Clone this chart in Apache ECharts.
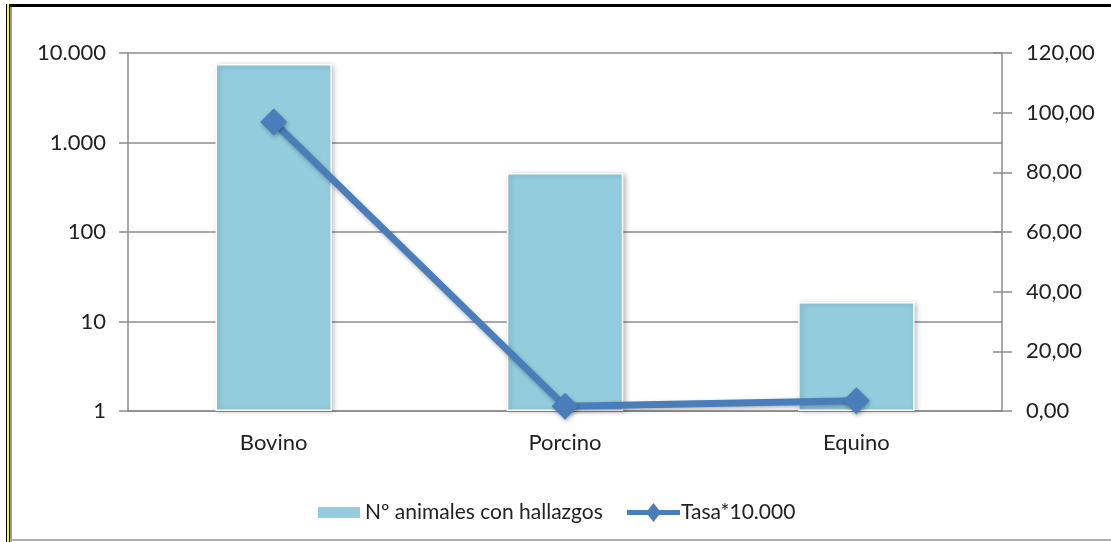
<!DOCTYPE html>
<html>
<head>
<meta charset="utf-8">
<script src="https://cdn.jsdelivr.net/npm/echarts@6/dist/echarts.min.js"></script>
<style>
html,body{margin:0;padding:0;background:#fff;}
#c{width:1111px;height:542px;}
</style>
</head>
<body>
<div id="c"></div>
<script>
var categories = ['Bovino', 'Porcino', 'Equino'];
var animales = [7540, 456, 16.5];
var tasa = [96.9, 1.6, 3.4];
var leftTicks = [1, 10, 100, 1000, 10000];
var rightTicks = [0, 20, 40, 60, 80, 100, 120];

var FONT = 'Lato';
var TXT = '#222';
function fmtThousands(v) {
  return String(Math.round(v)).replace(/\B(?=(\d{3})+(?!\d))/g, '.');
}
function fmtDec(v) {
  return v.toFixed(2).replace('.', ',');
}

var chart = echarts.init(document.getElementById('c'), null, {renderer: 'canvas'});
chart.setOption({
  animation: false,
  backgroundColor: '#fff',
  textStyle: {fontFamily: FONT},
  grid: {left: 128, right: 109, top: 53, bottom: 131},
  legend: [
    {
      left: 313,
      top: 497,
      itemWidth: 42,
      itemHeight: 11,
      textStyle: {fontFamily: FONT, fontSize: 21, color: TXT},
      data: [
        {name: 'Nº animales con hallazgos', icon: 'rect', itemStyle: {borderWidth: 0, shadowBlur: 0}}
      ]
    },
    {
      left: 622,
      top: 497,
      itemWidth: 53,
      itemHeight: 19,
      textStyle: {fontFamily: FONT, fontSize: 21, color: TXT, padding: [0, 0, 0, -4]},
      data: [
        {name: 'Tasa*10.000', icon: 'path://M0,7L21,7L26.5,0L32,7L53,7L53,12L32,12L26.5,19L21,12L0,12Z', itemStyle: {shadowBlur: 0}}
      ]
    }
  ],
  xAxis: {
    type: 'category',
    data: categories,
    axisLine: {lineStyle: {color: '#8c8c8c', width: 1.5}},
    axisTick: {show: false},
    axisLabel: {fontFamily: FONT, fontSize: 22, color: TXT, margin: 21}
  },
  yAxis: [
    {
      type: 'log',
      logBase: 10,
      min: 1,
      max: 10000,
      position: 'left',
      axisLine: {show: true, lineStyle: {color: '#8c8c8c', width: 1.5}},
      axisTick: {show: true, length: 9, lineStyle: {color: '#8c8c8c', width: 1.5}},
      splitLine: {show: true, lineStyle: {color: '#8c8c8c', width: 1.5}},
      axisLabel: {
        fontFamily: FONT, fontSize: 22, color: TXT, margin: 22,
        formatter: function (v) { return leftTicks.indexOf(Math.round(v)) >= 0 ? fmtThousands(v) : ''; }
      }
    },
    {
      type: 'value',
      min: 0,
      max: 120,
      interval: 20,
      position: 'right',
      axisLine: {show: true, lineStyle: {color: '#8c8c8c', width: 1.5}},
      axisTick: {show: true, length: 10, lineStyle: {color: '#8c8c8c', width: 1.5}},
      splitLine: {show: false},
      axisLabel: {
        fontFamily: FONT, fontSize: 22, color: TXT, margin: 24,
        formatter: function (v) { return rightTicks.indexOf(v) >= 0 ? fmtDec(v) : ''; }
      }
    },
    {
      type: 'value',
      min: 0,
      max: 120,
      interval: 20,
      position: 'right',
      axisLine: {show: false},
      axisTick: {show: true, inside: true, length: 9, lineStyle: {color: '#8c8c8c', width: 1.5}},
      splitLine: {show: false},
      axisLabel: {show: false}
    }
  ],
  series: [
    {
      name: 'Nº animales con hallazgos',
      type: 'bar',
      yAxisIndex: 0,
      data: animales,
      barWidth: '40%',
      itemStyle: {
        color: '#93CDDD',
        borderColor: '#ffffff',
        borderWidth: 1.5,
        shadowColor: 'rgba(0,0,0,0.25)',
        shadowBlur: 5,
        shadowOffsetX: 2,
        shadowOffsetY: 1
      }
    },
    {
      name: 'Tasa*10.000',
      type: 'line',
      yAxisIndex: 1,
      data: tasa,
      symbol: 'diamond',
      symbolSize: 27,
      z: 5,
      lineStyle: {
        color: '#4A7EBB',
        width: 7,
        shadowColor: 'rgba(0,0,0,0.3)',
        shadowBlur: 4,
        shadowOffsetX: 1,
        shadowOffsetY: 2
      },
      itemStyle: {
        color: '#4A7EBB',
        shadowColor: 'rgba(0,0,0,0.3)',
        shadowBlur: 4,
        shadowOffsetX: 1,
        shadowOffsetY: 2
      }
    }
  ],
  graphic: [
    {type: 'rect', left: 6, top: 4, shape: {width: 1105, height: 3}, style: {fill: '#000'}, silent: true},
    {type: 'rect', left: 6, top: 4, shape: {width: 1, height: 538}, style: {fill: '#000'}, silent: true},
    {type: 'rect', left: 7, top: 4, shape: {width: 2, height: 538}, style: {fill: '#ffff00'}, silent: true},
    {type: 'rect', left: 9, top: 4, shape: {width: 1, height: 538}, style: {fill: '#000'}, silent: true},
    {type: 'rect', left: 10, top: 7, shape: {width: 2, height: 535}, style: {fill: '#9a9a9a'}, silent: true},
    {type: 'rect', left: 10, top: 539, shape: {width: 1101, height: 2}, style: {fill: '#b0b0b0'}, silent: true}
  ]
});
</script>
</body>
</html>
